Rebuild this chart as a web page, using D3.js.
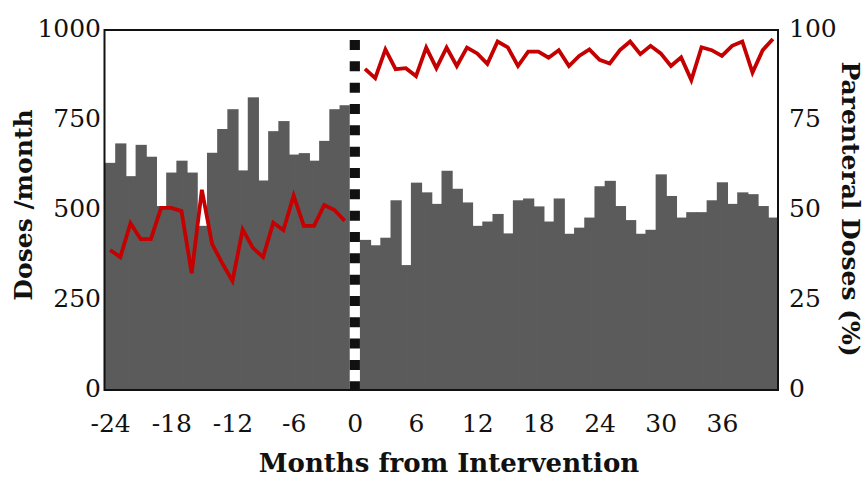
<!DOCTYPE html>
<html>
<head>
<meta charset="utf-8">
<script src="https://cdn.jsdelivr.net/npm/d3@7"></script>
<style>
  body { margin: 0; background: #fff; }
  text { font-family: 'DejaVu Serif', serif; }
</style>
</head>
<body>
<div class="container"></div>
<script>
// months relative to the intervention (month 0 has no data)
const preMonths = [-24, -23, -22, -21, -20, -19, -18, -17, -16, -15, -14, -13,
  -12, -11, -10, -9, -8, -7, -6, -5, -4, -3, -2, -1]
const postMonths = [1, 2, 3, 4, 5, 6, 7, 8, 9, 10, 11, 12, 13, 14, 15, 16, 17, 18,
  19, 20, 21, 22, 23, 24, 25, 26, 27, 28, 29, 30, 31, 32, 33, 34, 35, 36, 37, 38,
  39, 40, 41]

// doses per month (bars, left axis)
const preDoses = [631, 685, 594, 681, 648, 511, 604, 637, 604, 456, 659, 725,
  780, 610, 813, 582, 719, 747, 654, 658, 637, 692, 780, 791]
const postDoses = [417, 402, 423, 527, 347, 576, 549, 517, 609, 559, 521, 456,
  468, 489, 435, 527, 532, 510, 468, 532, 434, 451, 479, 566, 581, 511, 472, 434,
  445, 599, 539, 479, 494, 494, 527, 577, 517, 549, 544, 511, 479]

// parenteral doses in percent (line, right axis)
const prePct = [38.9, 36.9, 46.3, 41.9, 41.9, 50.6, 50.6, 49.7, 32.4, 55.6, 40.6,
  35.2, 30.3, 44.6, 39.5, 36.9, 46.5, 44.4, 54.0, 45.6, 45.6, 51.4, 50.0, 47.0]
const postPct = [89.2, 86.6, 94.6, 89.1, 89.4, 87.2, 95.1, 89.4, 95.1, 90.0, 95.1,
  93.5, 90.6, 96.8, 95.2, 90.0, 94.0, 94.0, 92.3, 94.4, 90.0, 92.8, 94.6, 91.7,
  90.7, 94.4, 96.8, 93.3, 95.6, 93.5, 90.0, 92.4, 86.1, 95.2, 94.4, 92.8, 95.6,
  96.8, 88.2, 94.4, 97.5]

const xTicks = [-24, -18, -12, -6, 0, 6, 12, 18, 24, 30, 36]
const doseTicks = [0, 250, 500, 750, 1000]
const pctTicks = [0, 25, 50, 75, 100]

const width = 867
const height = 477
const margin = { top: 30, right: 89, bottom: 87, left: 105 }

const svg = d3.select('.container')
  .append('svg')
  .attr('width', width)
  .attr('height', height)

const x = d3.scaleLinear()
  .domain([-24.5, 41.5])
  .range([margin.left, width - margin.right])

const yDose = d3.scaleLinear()
  .domain([0, 1000])
  .range([height - margin.bottom, margin.top])

const yPct = d3.scaleLinear()
  .domain([0, 100])
  .range([height - margin.bottom, margin.top])

const barData = preMonths.map((m, i) => ({ month: m, doses: preDoses[i] }))
  .concat(postMonths.map((m, i) => ({ month: m, doses: postDoses[i] })))

const barW = x(1) - x(0)

svg.append('g')
  .selectAll('rect')
  .data(barData)
  .enter()
  .append('rect')
  .attr('x', (d) => x(d.month) - barW / 2)
  .attr('y', (d) => yDose(d.doses))
  .attr('width', (d) => (d.month === -1 || d.month === 41) ? barW : barW + 1)
  .attr('height', (d) => yDose(0) - yDose(d.doses))
  .attr('fill', '#5b5b5b')

// intervention marker
svg.append('line')
  .attr('x1', x(0))
  .attr('x2', x(0))
  .attr('y1', yDose(1000) + 10)
  .attr('y2', yDose(0))
  .attr('stroke', '#111')
  .attr('stroke-width', barW)
  .attr('stroke-dasharray', '10 11.33')

const line = d3.line()
  .x((d) => x(d.month))
  .y((d) => yPct(d.pct))

const segments = [
  preMonths.map((m, i) => ({ month: m, pct: prePct[i] })),
  postMonths.map((m, i) => ({ month: m, pct: postPct[i] }))
]

svg.append('g')
  .selectAll('path')
  .data(segments)
  .enter()
  .append('path')
  .attr('d', line)
  .attr('fill', 'none')
  .attr('stroke', '#c40000')
  .attr('stroke-width', 3.8)
  .attr('stroke-linejoin', 'miter')

// frame
svg.append('rect')
  .attr('x', x.range()[0] - 0.5)
  .attr('y', yDose.range()[1])
  .attr('width', x.range()[1] - x.range()[0] + 0.5)
  .attr('height', yDose.range()[0] - yDose.range()[1])
  .attr('fill', 'none')
  .attr('stroke', '#111')
  .attr('stroke-width', 2)

const tickFont = (g) => {
  g.select('.domain').remove()
  g.selectAll('text')
    .attr('font-size', '25px')
    .attr('font-family', 'DejaVu Serif')
    .attr('fill', '#111')
}

const plain = (d) => `${d}`

svg.append('g')
  .attr('transform', `translate(${x.range()[0]},0)`)
  .call(d3.axisLeft(yDose).tickValues(doseTicks).tickFormat(plain).tickSize(0).tickPadding(4))
  .call(tickFont)
  .selectAll('text')
  .attr('dy', '0.26em')

svg.append('g')
  .attr('transform', `translate(${x.range()[1]},0)`)
  .call(d3.axisRight(yPct).tickValues(pctTicks).tickFormat(plain).tickSize(0).tickPadding(11))
  .call(tickFont)
  .selectAll('text')
  .attr('dy', '0.26em')

svg.append('g')
  .attr('transform', `translate(0,${yDose.range()[0]})`)
  .call(d3.axisBottom(x).tickValues(xTicks).tickFormat(plain).tickSize(0).tickPadding(24))
  .call(tickFont)

svg.append('text')
  .text('Doses /month')
  .attr('transform', `translate(32, 205) rotate(-90)`)
  .attr('text-anchor', 'middle')
  .attr('font-weight', 'bold')
  .attr('font-size', '25px')
  .attr('fill', '#111')

svg.append('text')
  .text('Parenteral Doses (%)')
  .attr('transform', `translate(842, 209) rotate(90)`)
  .attr('text-anchor', 'middle')
  .attr('font-weight', 'bold')
  .attr('font-size', '25px')
  .attr('fill', '#111')

svg.append('text')
  .text('Months from Intervention')
  .attr('x', 449)
  .attr('y', 472)
  .attr('text-anchor', 'middle')
  .attr('font-weight', 'bold')
  .attr('font-size', '26px')
  .attr('fill', '#111')
</script>
</body>
</html>
